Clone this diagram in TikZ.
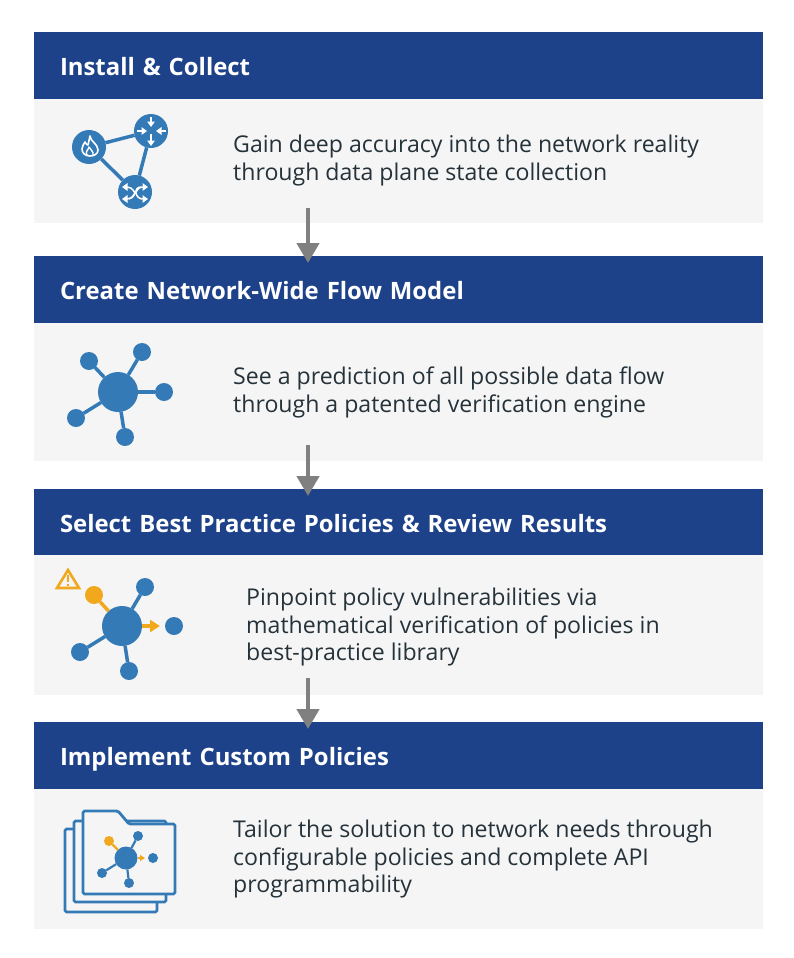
\documentclass[tikz,border=0pt]{standalone}
\usepackage{fontspec}
\setmainfont{Open Sans}
\usetikzlibrary{arrows.meta, calc, positioning}
\definecolor{headblue}{HTML}{1D428A}
\definecolor{cardgray}{HTML}{F5F5F5}
\definecolor{iconblue}{HTML}{337AB7}
\definecolor{warnorange}{HTML}{F2A81D}
\definecolor{flowgray}{HTML}{808080}
\definecolor{bodyink}{HTML}{25323A}
\tikzset{
  headbar/.style={rectangle, fill=headblue, text=white, anchor=north west, align=left,
                  font=\fontsize{23.9}{27}\selectfont\bfseries, minimum width=729pt, text width=677pt,
                  text height=20pt, text depth=0pt, inner xsep=26pt, inner ysep=0pt, outer sep=0pt},
  bodybox/.style={rectangle, fill=cardgray, minimum width=729pt, inner sep=0pt, outer sep=0pt},
  bodytext/.style={anchor=west, align=left, text=bodyink, inner sep=0pt,
                  font=\fontsize{23.1}{27.4}\selectfont},
  flow/.style={-{Triangle[length=20pt, width=22pt]}, line width=4.5pt, draw=flowgray},
  hub/.style={circle, fill=#1, inner sep=0pt, outer sep=0pt, minimum size=40pt},
  hub/.default=iconblue,
  sat/.style={circle, fill=#1, inner sep=0pt, outer sep=0pt, minimum size=18pt},
  sat/.default=iconblue,
  spoke/.style={line width=3.5pt, draw=#1},
  spoke/.default=iconblue,
  glyph/.style={draw=white, line width=1.5pt, -{Triangle[length=5.5pt, width=7.5pt]}},
  sheet/.style={draw=iconblue, fill=cardgray, line width=2.8pt, rounded corners=1.5pt},
}
\begin{document}
\begin{tikzpicture}[x=1pt, y=-1pt]
  \useasboundingbox (0,0) rectangle (794,958);
  % cards
  \foreach \i/\ytop/\hh/\bh/\tit in {
    1/32/67/124/{Install \& Collect},
    2/256/67/138/{Create Network-Wide Flow Model},
    3/489/66/140/{Select Best Practice Policies \& Review Results},
    4/722/67/140/{Implement Custom Policies}}{
    \node[headbar, minimum height=\hh pt] (head\i) at (34,\ytop) {\tit};
    \node[bodybox, minimum height=\bh pt, below=0pt of head\i] (body\i) {};
  }
  \node[bodytext] (text1) at (233,160.5) {Gain deep accuracy into the network reality\\through data plane state collection};
  \node[bodytext] (text2) at (233,392.5) {See a prediction of all possible data flow\\through a patented verification engine};
  \node[bodytext] (text3) at (246,627) {Pinpoint policy vulnerabilities via\\mathematical verification of policies in\\best-practice library};
  \node[bodytext] (text4) at (233,859) {Tailor the solution to network needs through\\configurable policies and complete API\\programmability};
  % flow arrows
  \foreach \i/\j/\gap in {1/2/15, 2/3/16, 3/4/17}{
    \coordinate (out\i) at ($(body\i.south west)+(274,-\gap)$);
    \coordinate (in\j) at ($(head\j.north west)+(274,7)$);
    \draw[flow] (out\i) -- (in\j);
  }
  % icon 1
  \node[hub, minimum size=34pt] (fire) at (89,147) {};
  \node[hub, minimum size=34pt] (router) at (151,131) {};
  \node[hub, minimum size=34pt] (switch) at (135,192) {};
  \draw[spoke] (fire) -- (router);
  \draw[spoke] (router) -- (switch);
  \draw[spoke] (switch) -- (fire);
  \draw[white, line width=1.6pt, line join=round] (90,136) .. controls (90,141) and (98,144) .. (98,150)
    .. controls (98,154) and (94,156) .. (90,156) .. controls (85,156) and (82,153) .. (82,149)
    .. controls (82,146) and (84,144) .. (85,142) .. controls (86,144) and (87,145) .. (88,145)
    .. controls (89,142) and (89,139) .. (90,136) -- cycle;
  \draw[white, line width=1.4pt, line join=round] (87,155) .. controls (85,151) and (88,151) .. (89,147)
    .. controls (90,150) and (94,151) .. (93,155);
  \draw[glyph] (151,117) -- (151,127);
  \draw[glyph] (137,131) -- (147,131);
  \draw[glyph] (166,131) -- (156,131);
  \draw[glyph] (151,134) -- (151,146);
  \draw[glyph] (141,187) .. controls (133,187) and (135,199) .. (148,199);
  \draw[glyph] (129,199) .. controls (135,199) and (135,187) .. (148,187);
  \draw[glyph] (135,193) .. controls (132,188) and (130,187) .. (122,187);
  \draw[glyph] (135,193) .. controls (132,198) and (130,199) .. (122,199);
  % icon 2
  \node[hub] (core) at (118,392) {};
  \foreach \n/\x/\y in {a/89/361, b/142/352, c/164/392, d/76/418, e/125/437}{
    \node[sat] (sat\n) at (\x,\y) {};
    \draw[spoke] (core) -- (sat\n);
  }
  % icon 3
  \node[hub] (corewarn) at (122,626) {};
  \foreach \n/\x/\y in {b/145/587, d/80/652, e/129/671}{
    \node[sat] (warn\n) at (\x,\y) {};
    \draw[spoke] (corewarn) -- (warn\n);
  }
  \node[sat] (warnc) at (174,626) {};
  \node[sat=warnorange] (warna) at (94,595) {};
  \draw[spoke=warnorange] (corewarn) -- (warna);
  \draw[spoke=warnorange, -{Triangle[length=10pt, width=12pt]}, shorten >=5pt] (corewarn) -- (warnc);
  \draw[draw=warnorange, line width=2.6pt, line join=miter] (68,570) -- (79,588) -- (57,588) -- cycle;
  \draw[draw=warnorange, line width=1.8pt] (68,575) -- (68,582);
  \draw[draw=warnorange, line width=1.8pt] (68,583.5) -- (68,585.5);
  % icon 4
  \draw[sheet] (65,829) rectangle (157,912);
  \draw[sheet] (74,821) rectangle (166,902);
  \draw[sheet] (83,811) -- (118,811) -- (129,824) -- (175,824) -- (175,894) -- (83,894) -- cycle;
  \node[hub, minimum size=23pt] (corefolder) at (126,858) {};
  \foreach \n/\x/\y in {b/138/836, d/102/873, e/129/883}{
    \node[sat, minimum size=10pt] (file\n) at (\x,\y) {};
    \draw[spoke, line width=2.2pt] (corefolder) -- (file\n);
  }
  \node[sat, minimum size=10pt] (filec) at (153,858) {};
  \node[sat=warnorange, minimum size=10pt] (filea) at (109,841) {};
  \draw[spoke=warnorange, line width=2.2pt] (corefolder) -- (filea);
  \draw[spoke=warnorange, line width=1.6pt, -{Triangle[length=5pt, width=6pt]}, shorten >=3pt] (corefolder) -- (filec);
\end{tikzpicture}
\end{document}
